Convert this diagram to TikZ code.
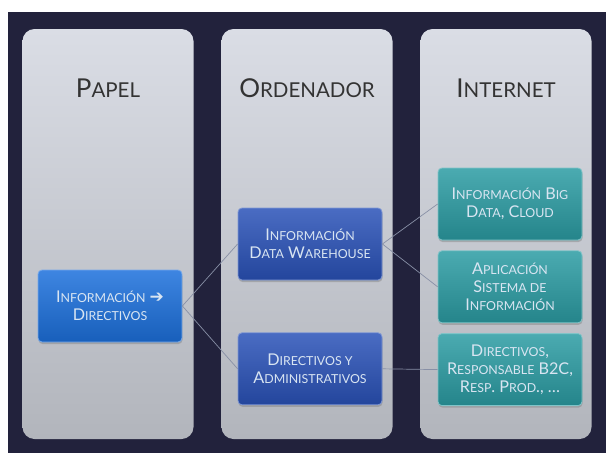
\documentclass[tikz,border=0pt]{standalone}
\usepackage{fontspec}
\setmainfont{Lato}
\newfontfamily\arrfont{DejaVu Sans}
\usetikzlibrary{positioning,shadows}

\definecolor{navy}{HTML}{22223C}
\definecolor{paneltop}{HTML}{DADDE5}
\definecolor{panelbot}{HTML}{B2B5BC}
\definecolor{bright}{HTML}{1C70DC}
\definecolor{royal}{HTML}{2A52B8}
\definecolor{teal}{HTML}{2B9CA3}
\definecolor{wire}{HTML}{8890A6}
\definecolor{inktxt}{HTML}{D9E5F2}

% small letters for the fake small caps
\newcommand\sm[1]{{\fontsize{12.4}{14}\selectfont #1}}
\newcommand\hsm[1]{{\fontsize{20.5}{22}\selectfont #1}}
\newcommand\arr{{\arrfont\fontsize{17}{17}\selectfont ➔}}

\tikzset{
 col/.style
  = {rectangle, rounded corners=12pt, top color=paneltop, bottom color=panelbot,
     minimum width=171pt, minimum height=410pt, inner sep=0pt},
 head/.style
  = {text=black!80, font=\fontsize{26}{28}\selectfont, inner sep=0pt},
 b/.style
  = {rectangle, rounded corners=4pt, draw=#1!60!white, line width=0.8pt,
     top color=#1!85!white, bottom color=#1!85!black,
     minimum width=144pt, minimum height=72pt, align=center,
     text=inktxt, font=\fontsize{16.2}{18}\selectfont, inner sep=0pt,
     drop shadow={opacity=0.45, shadow xshift=0.5pt, shadow yshift=-2pt}},
 l/.style
  = {draw=wire, line width=0.7pt},
}

\begin{document}
\begin{tikzpicture}[x=1pt,y=-1pt]
    \useasboundingbox (0,0) rectangle (606,453);
    \fill[navy] (8,12) rectangle (606,453);

    % three panels
    \node [col] (papel) at (108,234) {};
    \node [col] (orden) at (307,234) {};
    \node [col] (inet) at (506,234) {};

    \node [head] (tpapel) at (108,88) {P\hsm{APEL}};
    \node [head] (torden) at (307,88) {O\hsm{RDENADOR}};
    \node [head] (tinet) at (506,88) {I\hsm{NTERNET}};

    % boxes
    \node [b=bright] (infodir) at (110,306) {I\sm{NFORMACIÓN} \arr\\ D\sm{IRECTIVOS}};
    \node [b=royal] (infodw) at (310,244) {I\sm{NFORMACIÓN}\\ D\sm{ATA} W\sm{AREHOUSE}};
    \node [b=royal, below = 52pt of infodw] (diradm) {D\sm{IRECTIVOS Y}\\ A\sm{DMINISTRATIVOS}};
    \node [b=teal] (bigdata) at (510,204) {I\sm{NFORMACIÓN} B\sm{IG}\\ D\sm{ATA}, C\sm{LOUD}};
    \node [b=teal, below = 10pt of bigdata] (aplic) {A\sm{PLICACIÓN}\\ S\sm{ISTEMA DE}\\ I\sm{NFORMACIÓN}};
    \node [b=teal, below = 10pt of aplic] (resp) {D\sm{IRECTIVOS},\\ R\sm{ESPONSABLE} B2C,\\ R\sm{ESP}. P\sm{ROD}., \ldots};

    % links
    \path [l] (infodir.east) -- (infodw.west);
    \path [l] (infodir.east) -- (diradm.west);
    \path [l] (infodw.east) -- (bigdata.west);
    \path [l] (infodw.east) -- (aplic.west);
    \path [l] (diradm.east) -- (resp.west);
\end{tikzpicture}
\end{document}
